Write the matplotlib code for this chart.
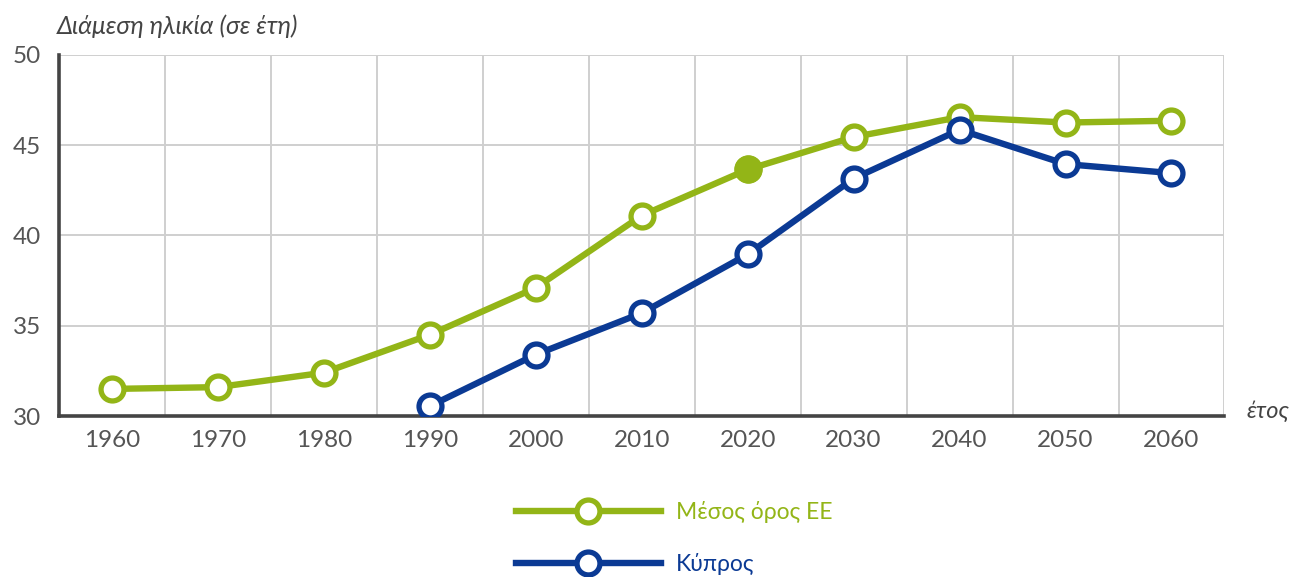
import matplotlib
matplotlib.use("Agg")
import matplotlib.pyplot as plt
from matplotlib.lines import Line2D

plt.rcParams['font.family'] = ['Lato', 'DejaVu Sans']

years = ['1960', '1970', '1980', '1990', '2000', '2010', '2020', '2030', '2040', '2050', '2060']
eu_values = [31.5, 31.6, 32.4, 34.5, 37.1, 41.1, 43.65, 45.45, 46.55, 46.25, 46.35]
cy_years = ['1990', '2000', '2010', '2020', '2030', '2040', '2050', '2060']
cy_values = [30.55, 33.4, 35.7, 38.95, 43.15, 45.85, 43.95, 43.45]
y_ticks = [30, 35, 40, 45, 50]

green = '#93b517'
blue = '#0b3a94'

fig = plt.figure(figsize=(12.9, 5.77), dpi=100)
ax = fig.add_axes([0.0457, 0.279, 0.9035, 0.626])

x_eu = list(range(len(years)))
x_cy = [years.index(y) for y in cy_years]

ms = 16.5
mew = 3.8
lw = 4.6
ax.plot(x_eu, eu_values, color=green, lw=lw, marker='o', ms=ms, mfc='white',
        mec=green, mew=mew, zorder=3, solid_capstyle='round')
# highlighted (filled) point at 2020
i20 = years.index('2020')
ax.plot([x_eu[i20]], [eu_values[i20]], marker='o', ms=ms, mfc=green, mec=green,
        mew=mew, zorder=4, ls='none')
ax.plot(x_cy, cy_values, color=blue, lw=lw, marker='o', ms=ms, mfc='white',
        mec=blue, mew=mew, zorder=3, solid_capstyle='round')

ax.set_xlim(-0.5, len(years) - 0.5)
ax.set_ylim(30, 50)
ax.set_xticks(x_eu)
ax.set_xticklabels(years)
ax.set_yticks(y_ticks)
ax.set_xticks([i - 0.5 for i in range(len(years) + 1)], minor=True)
ax.grid(False)
ax.grid(which='minor', axis='x', color='#cfcfcf', lw=1.4)
ax.grid(which='major', axis='y', color='#cfcfcf', lw=1.4)
ax.set_axisbelow(True)

for s in ['top', 'right']:
    ax.spines[s].set_visible(False)
ax.spines['left'].set_color('#444444')
ax.spines['left'].set_linewidth(2.6)
ax.spines['bottom'].set_color('#444444')
ax.spines['bottom'].set_linewidth(2.6)

ax.tick_params(axis='both', which='both', length=0, labelsize=17.5, colors='#555555')
ax.tick_params(axis='x', pad=10)
ax.tick_params(axis='y', pad=13)

fig.text(0.044, 0.955, 'Διάμεση ηλικία (σε έτη)', fontsize=18, style='italic',
         color='#444444', ha='left', va='center')
fig.text(0.983, 0.288, 'έτος', fontsize=17, style='italic', color='#444444',
         ha='center', va='center')

handles = [
    Line2D([0], [0], color=green, lw=lw, marker='o', ms=ms, mfc='white', mec=green, mew=mew),
    Line2D([0], [0], color=blue, lw=lw, marker='o', ms=ms, mfc='white', mec=blue, mew=mew),
]
leg = fig.legend(handles, ['Μέσος όρος ΕΕ', 'Κύπρος'], loc='upper left',
                 bbox_to_anchor=(0.393, 0.147), frameon=False, fontsize=16.5,
                 handlelength=6.3, handletextpad=0.66, labelspacing=1.3,
                 numpoints=1, borderaxespad=0)
for t, c in zip(leg.get_texts(), [green, blue]):
    t.set_color(c)

fig.savefig('out.png', dpi=100)
